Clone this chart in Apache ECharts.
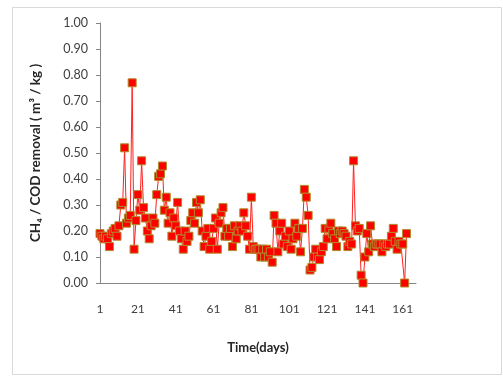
<!DOCTYPE html>
<html><head><meta charset="utf-8">
<script src="https://cdn.jsdelivr.net/npm/echarts@6/dist/echarts.min.js"></script>
<style>html,body{margin:0;padding:0;background:#fff}#c{width:503px;height:377px}</style>
</head><body><div id="c"></div>
<script>
// categories (days) and tick labels
const days = Array.from({length: 168}, (_, i) => String(i + 1));
const xTickLabels = ['1','21','41','61','81','101','121','141','161'];
const yTickLabels = ['0.00','0.10','0.20','0.30','0.40','0.50','0.60','0.70','0.80','0.90','1.00'];
// CH4 / COD removal values per day
const ch4PerCod = [
  0.19,0.18,0.17,0.18,0.17,0.14,0.19,0.20,0.21,0.18,
  0.22,0.30,0.31,0.52,0.23,0.25,0.26,0.77,0.13,0.24,
  0.34,0.28,0.47,0.29,0.25,0.20,0.17,0.22,0.25,0.23,
  0.34,0.41,0.42,0.45,0.28,0.33,0.23,0.27,0.18,0.25,
  0.22,0.31,0.20,0.17,0.13,0.20,0.16,0.18,0.24,0.27,
  0.23,0.31,0.27,0.32,0.20,0.14,0.18,0.21,0.13,0.16,
  0.21,0.25,0.13,0.23,0.27,0.29,0.18,0.21,0.18,0.21,
  0.14,0.22,0.17,0.20,0.22,0.20,0.27,0.22,0.18,0.13,
  0.33,0.14,0.13,0.13,0.13,0.10,0.13,0.10,0.13,0.10,
  0.12,0.08,0.26,0.23,0.12,0.20,0.23,0.15,0.18,0.14,
  0.20,0.13,0.17,0.23,0.18,0.21,0.12,0.21,0.36,0.33,
  0.26,0.05,0.06,0.10,0.13,0.10,0.09,0.12,0.14,0.21,
  0.17,0.21,0.23,0.19,0.17,0.14,0.20,0.19,0.20,0.19,
  0.18,0.14,0.16,0.15,0.47,0.22,0.20,0.21,0.03,0.00,
  0.10,0.19,0.12,0.22,0.15,0.14,0.15,0.15,0.15,0.12,
  0.15,0.14,0.15,0.15,0.18,0.21,0.16,0.13,0.16,0.15,
  0.15,0.00,0.19
];

const chart = echarts.init(document.getElementById('c'), null, {renderer: 'canvas'});
chart.setOption({
  animation: false,
  backgroundColor: '#fff',
  textStyle: {fontFamily: 'Lato'},
  graphic: [{
    type: 'rect', left: 10, top: 5,
    shape: {width: 489, height: 367},
    style: {fill: 'none', stroke: '#d9d9d9', lineWidth: 1}
  }],
  grid: {left: 100, top: 23, width: 316, height: 260},
  xAxis: {
    type: 'category',
    data: days,
    boundaryGap: false,
    name: 'Time(days)',
    nameLocation: 'middle',
    nameGap: 58,
    nameTextStyle: {fontFamily: 'Lato', fontWeight: 'bold', fontSize: 13, color: '#262626'},
    axisLine: {lineStyle: {color: '#868686', width: 1}},
    axisTick: {show: false},
    axisLabel: {
      interval: 0,
      margin: 20,
      fontSize: 12, color: '#404040', fontFamily: 'Lato',
      formatter: v => xTickLabels.indexOf(v) >= 0 ? v : ''
    },
    splitLine: {show: false}
  },
  yAxis: {
    type: 'value',
    min: 0, max: 1, interval: 0.1,
    name: 'CH₄ / COD removal ( m³ / kg )',
    nameLocation: 'middle',
    nameGap: 57,
    nameTextStyle: {fontFamily: 'Lato', fontWeight: 'bold', fontSize: 13.5, color: '#262626'},
    axisLine: {show: true, lineStyle: {color: '#868686', width: 1}},
    axisTick: {show: true, length: 4, lineStyle: {color: '#868686'}},
    axisLabel: {
      margin: 12, fontSize: 12.5, color: '#404040', fontFamily: 'Lato',
      formatter: v => yTickLabels[Math.round(v * 10)]
    },
    splitLine: {show: false}
  },
  series: [{
    type: 'line',
    data: ch4PerCod,
    symbol: 'rect',
    symbolSize: 8,
    showAllSymbol: true,
    lineStyle: {color: '#ff2020', width: 1},
    itemStyle: {color: '#ff0000', borderColor: '#b08a2a', borderWidth: 1}
  }]
});
</script></body></html>
